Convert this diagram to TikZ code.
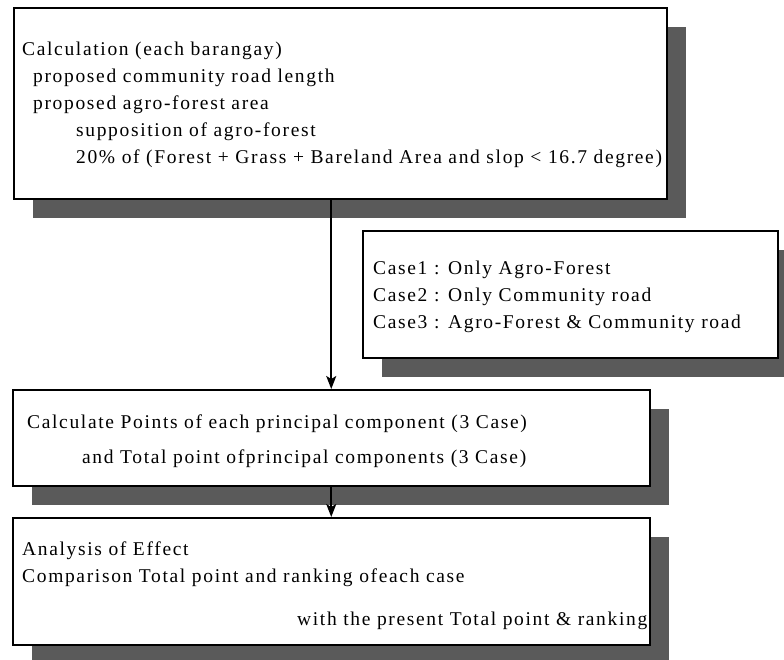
\documentclass[tikz,border=0pt]{standalone}
\usepackage{fontspec}
\setmainfont{Liberation Serif}[LetterSpace=8.5]
\usetikzlibrary{arrows.meta,shadows}
\definecolor{shadowgray}{HTML}{5A5A5A}

\begin{document}
\begin{tikzpicture}[x=1pt,y=-1pt,
  box/.style={draw,line width=1.5pt,fill=white,anchor=north west,inner sep=0pt,
    drop shadow={shadow xshift=19pt,shadow yshift=-19pt,fill=shadowgray,opacity=1}},
  txt/.style={anchor=base west,inner sep=0pt,font=\fontsize{19.5}{24}\selectfont},
  arr/.style={line width=1.8pt,-{Stealth[length=13pt,width=10pt,inset=3pt]}}]
  \useasboundingbox (0,0) rectangle (784,659);
  % boxes
  \node[box,minimum width=653pt,minimum height=191pt] (calc) at (13,7) {};
  \node[box,minimum width=415pt,minimum height=127pt] (cases) at (362,230) {};
  \node[box,minimum width=637pt,minimum height=96pt] (points) at (12,389) {};
  \node[box,minimum width=637pt,minimum height=127pt] (effect) at (12,517) {};
  % texts
  \node[txt] (c1) at (22,55) {Calculation (each barangay)};
  \node[txt] (c2) at (33,82) {proposed community road length};
  \node[txt] (c3) at (33,109) {proposed agro-forest area};
  \node[txt] (c4) at (76,136) {supposition of agro-forest};
  \node[txt] (c5) at (76,163) {20\% of (Forest + Grass + Bareland Area and slop < 16.7 degree)};
  \node[txt] (k1) at (373,274) {Case1 : Only Agro-Forest};
  \node[txt] (k2) at (373,301) {Case2 : Only Community road};
  \node[txt] (k3) at (373,328) {Case3 : Agro-Forest \& Community road};
  \node[txt] (p1) at (27,428) {Calculate Points of each principal component (3 Case)};
  \node[txt] (p2) at (82,463) {and Total point ofprincipal components (3 Case)};
  \node[txt] (e1) at (22,555) {Analysis of Effect};
  \node[txt] (e2) at (22,582) {Comparison Total point and ranking ofeach case};
  \node[txt] (e3) at (297,625) {with the present Total point \& ranking};
  % arrows
  \draw[arr] (calc.south -| points.north) -- (points.north);
  \draw[arr] (points.south) -- (effect.north);
\end{tikzpicture}
\end{document}
